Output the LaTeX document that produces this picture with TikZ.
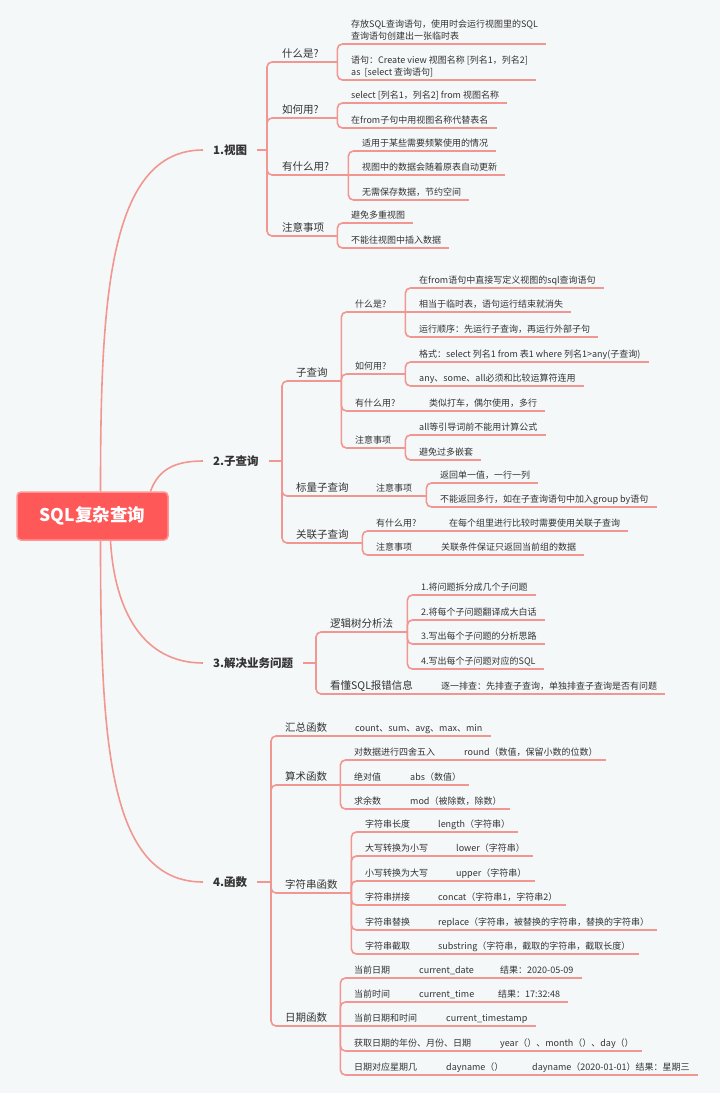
\documentclass[tikz,border=0pt]{standalone}
\usepackage{fontspec}
\newfontfamily\cjk{Noto Sans CJK SC}
\usetikzlibrary{positioning,calc}
\definecolor{bgc}{RGB}{245,248,249}
\definecolor{linkc}{RGB}{241,150,145}
\definecolor{rootc}{RGB}{255,88,88}
\definecolor{rootb}{RGB}{255,150,150}
\definecolor{txtc}{RGB}{51,51,51}

\begin{document}
\begin{tikzpicture}[
            x=1pt, y=-1pt,
            link/.style={draw=linkc, line width=1.6pt, rounded corners=5pt},
            curve/.style={draw=linkc, line width=1.6pt},
            root/.style={rectangle, rounded corners=4pt, fill=rootc, draw=rootb, line width=1.5pt, minimum width=151pt, minimum height=48pt, text=white, font=\cjk\bfseries\fontsize{17.5}{20}\selectfont},
            branch/.style={anchor=west, inner xsep=10pt, text=txtc, font=\cjk\bfseries\fontsize{11.5}{14}\selectfont},
            leaf/.style={anchor=south west, inner xsep=8pt, inner ysep=0pt, text height=8pt, text depth=4.5pt, text=txtc, font=\cjk\fontsize{9}{12}\selectfont,
                append after command={(\tikzlastnode.south west) edge[link] (\tikzlastnode.south east)}},
            sub/.style={leaf, font=\cjk\fontsize{10.5}{13}\selectfont},
            hub/.style={leaf, text width=#1, align=left},
            subhub/.style={sub, text width=#1, align=left}
        ]
            \fill[bgc] (0,0) rectangle (720,1093);

            \node[root] (root) at (92.5,516) {SQL复杂查询};
            \node[branch] (b1) at (203,150) {1.视图};
            \node[branch] (b2) at (203,461) {2.子查询};
            \node[branch] (b3) at (203,663) {3.解决业务问题};
            \node[branch] (b4) at (203,882) {4.函数};

            \draw[curve] ([xshift=8pt]root.north) .. controls +(0,-190) and +(-95,0) .. (b1.west);
            \draw[curve] ([xshift=58pt]root.north) .. controls +(8,-22) and +(-28,0) .. (b2.west);
            \draw[curve] ([xshift=18pt]root.south) .. controls +(4,70) and +(-60,0) .. (b3.west);
            \draw[curve] ([xshift=8pt]root.south) .. controls +(0,200) and +(-95,0) .. (b4.west);

            % 1. view
            \node[subhub=47pt] (what1) at (274,62) {什么是?};
            \node[leaf] (what1a) at (343,44) {\begin{tabular}[b]{@{}l@{}}存放SQL查询语句，使用时会运行视图里的SQL\\查询语句创建出一张临时表\end{tabular}};
            \node[leaf] (what1b) at (343,80) {\begin{tabular}[b]{@{}l@{}}语句：Create view 视图名称 [列名1，列名2]\\as\ \ [select 查询语句]\end{tabular}};
            \node[subhub=47pt] (how1) at (274,118) {如何用?};
            \node[leaf] (how1a) at (343,103) {select [列名1，列名2] from 视图名称};
            \node[leaf] (how1b) at (343,128) {在from子句中用视图名称代替表名};
            \node[subhub=58pt] (use1) at (274,175) {有什么用?};
            \node[leaf] (use1a) at (354,151) {适用于某些需要频繁使用的情况};
            \node[leaf] (use1b) at (354,175) {视图中的数据会随着原表自动更新};
            \node[leaf] (use1c) at (354,200) {无需保存数据，节约空间};
            \node[subhub=47pt] (note1) at (274,236) {注意事项};
            \node[leaf] (note1a) at (343,223) {避免多重视图};
            \node[leaf] (note1b) at (343,248) {不能往视图中插入数据};

            % 2. subquery
            \node[subhub=37pt] (sq) at (288,381) {子查询};
            \node[hub=42pt] (sq1) at (347,312) {什么是?};
            \node[leaf] (sq1a) at (411,288) {在from语句中直接写定义视图的sql查询语句};
            \node[leaf] (sq1b) at (411,312) {相当于临时表，语句运行结束就消失};
            \node[leaf] (sq1c) at (411,337) {运行顺序：先运行子查询，再运行外部子句};
            \node[hub=42pt] (sq2) at (347,374) {如何用?};
            \node[leaf] (sq2a) at (411,362) {格式：select 列名1 from 表1 where 列名1>any(子查询)};
            \node[leaf] (sq2b) at (411,386) {any、some、all必须和比较运算符连用};
            \node[hub=52pt] (sq3) at (347,411) {有什么用?};
            \node[leaf] (sq3a) at (421,411) {类似打车，偶尔使用，多行};
            \node[hub=42pt] (sq4) at (347,448) {注意事项};
            \node[leaf] (sq4a) at (411,435) {all等引导词前不能用计算公式};
            \node[leaf] (sq4b) at (411,460) {避免过多嵌套};
            \node[subhub=58pt] (sc) at (288,496) {标量子查询};
            \node[hub=42pt] (sc1) at (368,496) {注意事项};
            \node[leaf] (sc1a) at (432,483) {返回单一值，一行一列};
            \node[leaf] (sc1b) at (432,507) {不能返回多行，如在子查询语句中加入group by语句};
            \node[subhub=58pt] (cq) at (288,543) {关联子查询};
            \node[hub=51pt] (cq1) at (368,531) {有什么用?};
            \node[leaf] (cq1a) at (441,531) {在每个组里进行比较时需要使用关联子查询};
            \node[hub=43pt] (cq2) at (368,555) {注意事项};
            \node[leaf] (cq2a) at (433,555) {关联条件保证只返回当前组的数据};

            % 3. business problems
            \node[subhub=69pt] (lt) at (322,632) {逻辑树分析法};
            \node[leaf] (lt1) at (413,595) {1.将问题拆分成几个子问题};
            \node[leaf] (lt2) at (413,620) {2.将每个子问题翻译成大白话};
            \node[leaf] (lt3) at (413,644) {3.写出每个子问题的分析思路};
            \node[leaf] (lt4) at (413,669) {4.写出每个子问题对应的SQL};
            \node[subhub=89pt] (er) at (322,694) {看懂SQL报错信息};
            \node[leaf] (er1) at (433,694) {逐一排查：先排查子查询，单独排查子查询是否有问题};

            % 4. functions
            \node[subhub=48pt] (agg) at (277,736) {汇总函数};
            \node[leaf] (agg1) at (347,736) {count、sum、avg、max、min};
            \node[subhub=47pt] (ari) at (277,785) {算术函数};
            \node[hub=88pt] (ari1) at (346,760) {对数据进行四舍五入};
            \node[leaf] (ari1a) at (456,760) {round（数值，保留小数的位数）};
            \node[hub=34pt] (ari2) at (346,785) {绝对值};
            \node[leaf] (ari2a) at (402,785) {abs（数值）};
            \node[hub=34pt] (ari3) at (346,809) {求余数};
            \node[leaf] (ari3a) at (402,809) {mod（被除数，除数）};
            \node[subhub=58pt] (str) at (277,893) {字符串函数};
            \node[hub=51pt] (str1) at (357,832) {字符串长度};
            \node[leaf] (str1a) at (430,832) {length（字符串）};
            \node[hub=69pt] (str2) at (357,856) {大写转换为小写};
            \node[leaf] (str2a) at (448,856) {lower（字符串）};
            \node[hub=69pt] (str3) at (357,881) {小写转换为大写};
            \node[leaf] (str3a) at (448,881) {upper（字符串）};
            \node[hub=51pt] (str4) at (357,905) {字符串拼接};
            \node[leaf] (str4a) at (430,905) {concat（字符串1，字符串2）};
            \node[hub=51pt] (str5) at (357,930) {字符串替换};
            \node[leaf] (str5a) at (430,930) {replace（字符串，被替换的字符串，替换的字符串）};
            \node[hub=51pt] (str6) at (357,954) {字符串截取};
            \node[leaf] (str6a) at (430,954) {substring（字符串，截取的字符串，截取长度）};
            \node[subhub=47pt] (dt) at (277,1026) {日期函数};
            \node[hub=43pt] (dt1) at (346,978) {当前日期};
            \node[hub=59pt] (dt1a) at (411,978) {current\_date};
            \node[leaf] (dt1b) at (492,978) {结果：2020-05-09};
            \node[hub=43pt] (dt2) at (346,1002) {当前时间};
            \node[hub=57pt] (dt2a) at (411,1002) {current\_time};
            \node[leaf] (dt2b) at (490,1002) {结果：17:32:48};
            \node[hub=70pt] (dt3) at (346,1026) {当前日期和时间};
            \node[leaf] (dt3a) at (438,1026) {current\_timestamp};
            \node[hub=124pt] (dt4) at (346,1051) {获取日期的年份、月份、日期};
            \node[leaf] (dt4a) at (492,1051) {year（）、month（）、day（）};
            \node[hub=70pt] (dt5) at (346,1075) {日期对应星期几};
            \node[hub=64pt] (dt5a) at (438,1075) {dayname（）};
            \node[leaf] (dt5b) at (524,1075) {dayname（2020-01-01）结果：星期三};

            % connectors
            \coordinate (j1) at (267,150);
            \coordinate (j2) at (282,461);
            \coordinate (j3) at (316,663);
            \coordinate (j4) at (271,882);
            \draw[link] (b1.east) -- (j1);
            \draw[link] (b2.east) -- (j2);
            \draw[link] (b3.east) -- (j3);
            \draw[link] (b4.east) -- (j4);
            \foreach \n in {what1,how1,use1,note1} \draw[link] (j1) |- (\n.south west);
            \foreach \n in {sq,sc,cq} \draw[link] (j2) |- (\n.south west);
            \foreach \n in {lt,er} \draw[link] (j3) |- (\n.south west);
            \foreach \n in {agg,ari,str,dt} \draw[link] (j4) |- (\n.south west);

            \foreach \n in {what1a,what1b} \draw[link] (what1.south east) |- (\n.south west);
            \foreach \n in {how1a,how1b} \draw[link] (how1.south east) |- (\n.south west);
            \foreach \n in {use1a,use1c} \draw[link] (use1.south east) |- (\n.south west);
            \draw[link] (use1.south east) -- (use1b.south west);
            \foreach \n in {note1a,note1b} \draw[link] (note1.south east) |- (\n.south west);

            \foreach \n in {sq1,sq2,sq3,sq4} \draw[link] (sq.south east) |- (\n.south west);
            \foreach \n in {sq1a,sq1c} \draw[link] (sq1.south east) |- (\n.south west);
            \draw[link] (sq1.south east) -- (sq1b.south west);
            \foreach \n in {sq2a,sq2b} \draw[link] (sq2.south east) |- (\n.south west);
            \draw[link] (sq3.south east) -- (sq3a.south west);
            \foreach \n in {sq4a,sq4b} \draw[link] (sq4.south east) |- (\n.south west);
            \draw[link] (sc.south east) -- (sc1.south west);
            \foreach \n in {sc1a,sc1b} \draw[link] (sc1.south east) |- (\n.south west);
            \foreach \n in {cq1,cq2} \draw[link] (cq.south east) |- (\n.south west);
            \draw[link] (cq1.south east) -- (cq1a.south west);
            \draw[link] (cq2.south east) -- (cq2a.south west);

            \foreach \n in {lt1,lt2,lt3,lt4} \draw[link] (lt.south east) |- (\n.south west);
            \draw[link] (er.south east) -- (er1.south west);

            \draw[link] (agg.south east) -- (agg1.south west);
            \foreach \n in {ari1,ari3} \draw[link] (ari.south east) |- (\n.south west);
            \draw[link] (ari.south east) -- (ari2.south west);
            \draw[link] (ari1.south east) -- (ari1a.south west);
            \draw[link] (ari2.south east) -- (ari2a.south west);
            \draw[link] (ari3.south east) -- (ari3a.south west);
            \foreach \n in {str1,str2,str3,str4,str5,str6} \draw[link] (str.south east) |- (\n.south west);
            \foreach \n in {1,...,6} \draw[link] (str\n.south east) -- (str\n a.south west);
            \foreach \n in {dt1,dt2,dt4,dt5} \draw[link] (dt.south east) |- (\n.south west);
            \draw[link] (dt.south east) -- (dt3.south west);
            \foreach \n in {1,...,5} \draw[link] (dt\n.south east) -- (dt\n a.south west);
            \draw[link] (dt1a.south east) -- (dt1b.south west);
            \draw[link] (dt2a.south east) -- (dt2b.south west);
            \draw[link] (dt5a.south east) -- (dt5b.south west);
        \end{tikzpicture}
\end{document}
